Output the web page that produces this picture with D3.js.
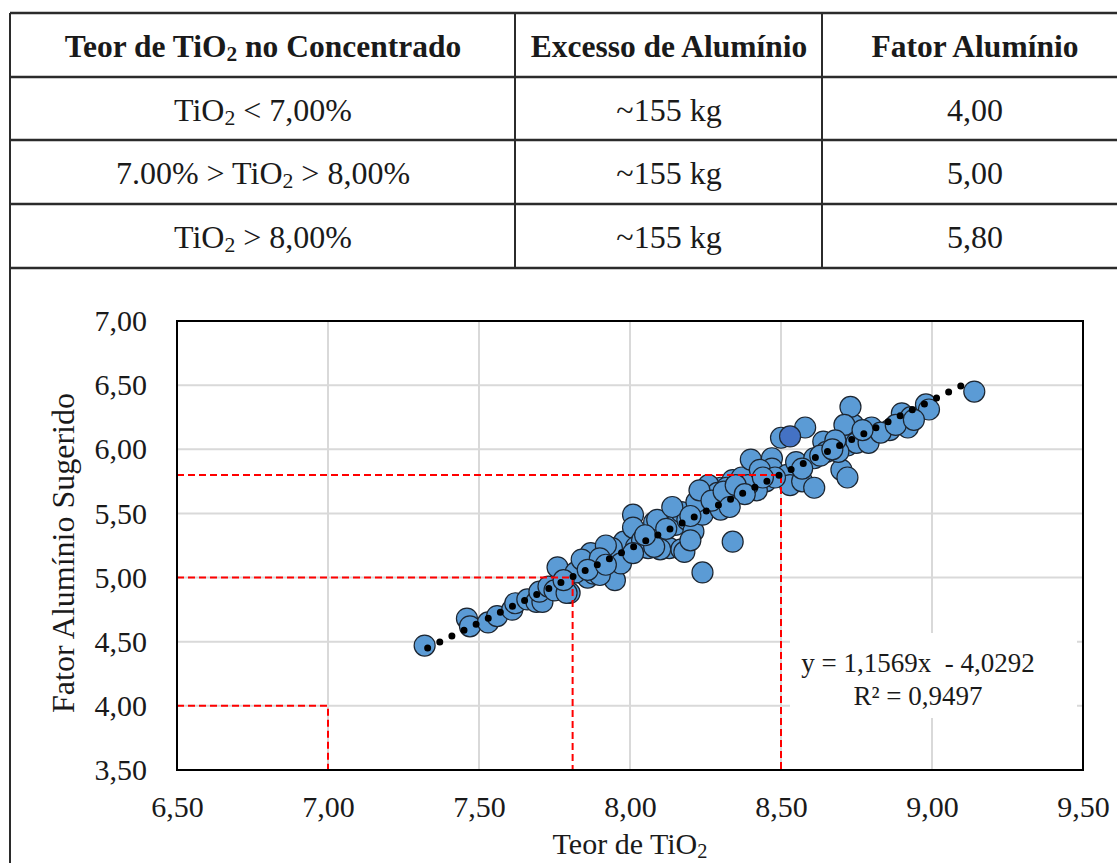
<!DOCTYPE html>
<html>
<head>
<meta charset="utf-8">
<script src="https://cdn.jsdelivr.net/npm/d3@7/dist/d3.min.js"></script>
<style>
  html, body { margin: 0; padding: 0; background: #fff; }
  svg { display: block; }
  svg text { font-family: "Liberation Serif", "Times New Roman", serif; fill: #1a1a1a; }
</style>
</head>
<body>
<svg id="chart" width="1117" height="863"></svg>
<script>
// ---------- DATA ----------
const tableHeaders = [["Teor de TiO", "2", " no Concentrado"], ["Excesso de Alumínio"], ["Fator Alumínio"]];
const rangeLabels = [["TiO", "2", " < 7,00%"], ["7.00% > TiO", "2", " > 8,00%"], ["TiO", "2", " > 8,00%"]];
const excessLabels = ["~155 kg", "~155 kg", "~155 kg"];
const factorLabels = ["4,00", "5,00", "5,80"];

const xTicks = [6.5, 7.0, 7.5, 8.0, 8.5, 9.0, 9.5];
const yTicks = [3.5, 4.0, 4.5, 5.0, 5.5, 6.0, 6.5, 7.0];

// TiO2 content (x) and suggested aluminium factor (y)
const tio2 = [7.32,7.46,7.47,7.53,7.56,7.61,7.62,7.66,7.69,7.71,7.70,7.73,7.75,7.76,7.80,7.83,7.86,7.84,7.88,7.82,
  7.88,7.87,7.91,7.94,7.95,7.94,7.97,7.98,8.01,8.01,8.02,8.04,8.06,8.08,8.09,8.11,8.13,8.17,8.15,8.17,
  8.19,8.21,8.23,8.24,8.26,8.29,8.30,8.33,8.34,8.34,8.24,8.26,8.36,8.37,8.50,8.58,8.40,8.47,8.47,8.45,
  8.42,8.39,8.32,8.29,8.22,8.52,8.55,8.53,8.57,8.61,8.61,8.64,8.65,8.70,8.72,8.72,8.74,8.73,8.71,8.75,
  8.80,8.79,8.86,8.92,8.90,8.93,8.98,8.99,9.14,8.69,8.09,8.10,8.18,7.88,7.79,7.94,7.97,8.01,8.08,8.14,
  8.43,8.48,8.83,8.88,7.92,7.84,7.78,7.90,8.20,8.30,8.23,8.68,8.77,8.94,
  8.27,8.31,8.35,8.38,8.44,8.33,8.20,8.12,8.05,7.90,7.86,7.92,8.63,8.67,8.57];
const fator = [4.47,4.68,4.62,4.65,4.70,4.75,4.80,4.83,4.81,4.81,4.89,4.93,4.90,5.08,4.88,5.04,5.00,5.10,5.18,5.04,
  5.08,5.19,5.12,5.04,4.98,5.22,5.19,5.28,5.49,5.39,5.24,5.29,5.23,5.43,5.32,5.25,5.23,5.22,5.41,5.51,
  5.45,5.36,5.57,5.49,5.64,5.59,5.70,5.62,5.76,5.28,5.04,5.72,5.68,5.78,6.09,6.17,5.92,5.93,5.85,5.75,
  5.68,5.72,5.70,5.66,5.59,5.80,5.90,5.72,5.75,5.70,5.93,6.06,5.98,5.84,5.78,6.03,6.19,6.33,6.19,6.05,
  6.17,6.05,6.15,6.17,6.28,6.25,6.35,6.31,6.45,5.98,5.45,5.22,5.20,5.03,4.88,5.23,5.11,5.19,5.24,5.55,
  5.84,5.78,6.13,6.19,5.25,5.14,4.98,5.02,5.29,5.53,5.68,6.07,6.15,6.23,
  5.60,5.67,5.72,5.65,5.78,5.55,5.48,5.38,5.33,5.15,5.06,5.10,5.95,6.00,5.85];
// highlighted sample
const highlight = { tio2: 8.53, fator: 6.10 };

// linear fit y = a x + b
const slope = 1.1569, intercept = -4.0292;
const fitRange = [7.33, 9.12];
const eqLines = ["y = 1,1569x  - 4,0292", "R² = 0,9497"];

// reference guides: [tio2 limit, fator]
const guides = [[7.00, 4.00], [7.81, 5.00], [8.50, 5.80]];

const axisX = ["Teor de TiO", "2"];
const axisY = "Fator Alumínio Sugerido";

// ---------- DRAW ----------
const FONT = '"Liberation Serif", "Times New Roman", serif';
const svg = d3.select("#chart");
const fmt = d => d3.format(".2f")(d).replace(".", ",");

// Table
const colX = [10, 515, 822];
const rowY = [13, 77, 140, 204, 268];
const tbl = svg.append("g");
const lineColor = "#2b2b2b";
rowY.forEach(yv => tbl.append("line").attr("x1", colX[0]).attr("x2", 1117).attr("y1", yv).attr("y2", yv)
  .attr("stroke", lineColor).attr("stroke-width", 2.4));
colX.forEach((xv, i) => tbl.append("line").attr("x1", xv).attr("x2", xv)
  .attr("y1", rowY[0]).attr("y2", i === 0 ? 863 : rowY[4]).attr("stroke", lineColor).attr("stroke-width", 2));

function richText(g, parts, x, y, size, weight) {
  const t = g.append("text").attr("x", x).attr("y", y).attr("text-anchor", "middle")
    .style("font-family", FONT).style("white-space", "pre").attr("font-size", size).attr("font-weight", weight);
  parts.forEach((p, i) => {
    if (parts.length > 1 && i === 1) {
      t.append("tspan").attr("font-size", size * 0.68).attr("dy", size * 0.12).text(p);
    } else {
      t.append("tspan").attr("dy", i === 2 ? -size * 0.12 : 0).text(p);
    }
  });
  return t;
}
const colC = [263, 669, 975];
tableHeaders.forEach((h, i) => richText(tbl, h, colC[i], 57, 31.5, "bold"));
[0, 1, 2].forEach(r => {
  const by = rowY[r + 1] + 44;
  richText(tbl, rangeLabels[r], colC[0], by, 32, "normal");
  richText(tbl, [excessLabels[r]], colC[1], by, 32, "normal");
  richText(tbl, [factorLabels[r]], colC[2], by, 32, "normal");
});

// Chart
const x = d3.scaleLinear().domain([6.5, 9.5]).range([177, 1083]);
const y = d3.scaleLinear().domain([3.5, 7.0]).range([770, 321]);

const grid = svg.append("g");
grid.selectAll(".gx").data(xTicks.slice(1, -1)).join("line")
  .attr("x1", d => x(d)).attr("x2", d => x(d)).attr("y1", y(7)).attr("y2", y(3.5))
  .attr("stroke", "#d9d9d9").attr("stroke-width", 2);
grid.selectAll(".gy").data(yTicks.slice(1, -1)).join("line")
  .attr("x1", x(6.5)).attr("x2", x(9.5)).attr("y1", d => y(d)).attr("y2", d => y(d))
  .attr("stroke", "#d9d9d9").attr("stroke-width", 2);

// label background box (interrupts gridlines)
svg.append("rect").attr("x", 790).attr("y", 633).attr("width", 287).attr("height", 85).attr("fill", "#fff");

// points
const pts = tio2.map((v, i) => ({ x: v, y: fator[i] }));
svg.append("g").selectAll("circle").data(pts).join("circle")
  .attr("cx", d => x(d.x)).attr("cy", d => y(d.y)).attr("r", 10.5)
  .attr("fill", "#5b9bd5").attr("stroke", "#1c2530").attr("stroke-width", 1.2);
svg.append("circle").attr("cx", x(highlight.tio2)).attr("cy", y(highlight.fator)).attr("r", 10.5)
  .attr("fill", "#4472c4").attr("stroke", "#1c2530").attr("stroke-width", 1.2);

// red guide lines
const gg = svg.append("g");
guides.forEach(([gx, gy]) => {
  gg.append("path")
    .attr("d", `M${x(6.5)},${y(gy)} L${x(gx)},${y(gy)} L${x(gx)},${y(3.5)}`)
    .attr("fill", "none").attr("stroke", "#ff0000").attr("stroke-width", 2)
    .attr("stroke-dasharray", "7,4");
});

// trend line (round dots)
svg.append("line")
  .attr("x1", x(fitRange[0])).attr("y1", y(slope * fitRange[0] + intercept))
  .attr("x2", x(fitRange[1])).attr("y2", y(slope * fitRange[1] + intercept))
  .attr("stroke", "#000").attr("stroke-width", 7).attr("stroke-linecap", "round")
  .attr("stroke-dasharray", "0,13.5");

// plot border
svg.append("rect").attr("x", x(6.5)).attr("y", y(7)).attr("width", x(9.5) - x(6.5)).attr("height", y(3.5) - y(7))
  .attr("fill", "none").attr("stroke", "#000").attr("stroke-width", 2);

// axes
const xa = svg.append("g").attr("transform", `translate(0,${y(3.5)})`)
  .call(d3.axisBottom(x).tickValues(xTicks).tickFormat(fmt).tickSize(0).tickPadding(26));
const ya = svg.append("g").attr("transform", `translate(${x(6.5)},0)`)
  .call(d3.axisLeft(y).tickValues(yTicks).tickFormat(fmt).tickSize(0).tickPadding(30));
[xa, ya].forEach(a => {
  a.attr("font-family", null).attr("font-size", null);
  a.select(".domain").remove();
  a.selectAll("text").attr("font-size", 30).style("font-family", FONT).attr("fill", "#1a1a1a");
});

// equation
eqLines.forEach((t, i) => svg.append("text").attr("x", 918).attr("y", 672 + i * 33)
  .attr("text-anchor", "middle").style("font-family", FONT).style("white-space", "pre")
  .attr("font-size", 27).text(t));

// axis titles
richText(svg, axisX, 630, 854, 30, "normal");
svg.append("text").attr("transform", "translate(74,553) rotate(-90)")
  .attr("text-anchor", "middle").style("font-family", FONT).attr("font-size", 32).text(axisY);
</script>
</body>
</html>
